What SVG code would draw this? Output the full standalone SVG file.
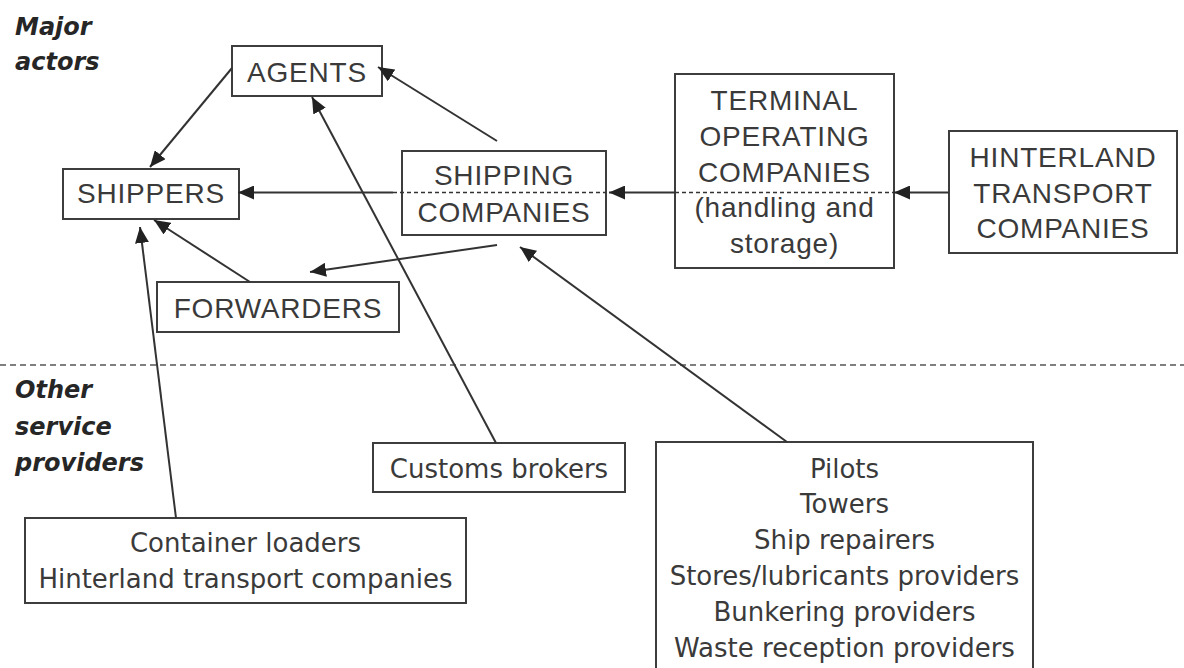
<svg xmlns="http://www.w3.org/2000/svg" width="1184" height="668" viewBox="0 0 1184 668">
  <style>
    .box { fill: #ffffff; stroke: #3d3d3d; stroke-width: 2; }
    .caps { font-family: "Liberation Sans", Arial, sans-serif; font-size: 28px; letter-spacing: 0.8px; fill: #3a3a3a; text-anchor: middle; }
    .plain { font-family: "DejaVu Sans", Verdana, sans-serif; font-size: 26px; fill: #3a3a3a; text-anchor: middle; }
    .zone { font-family: "DejaVu Sans", Verdana, sans-serif; font-size: 24px; font-weight: bold; font-style: italic; fill: #262626; }
    .link { fill: none; stroke: #333333; stroke-width: 2; marker-end: url(#arrow); }
    .inner { fill: none; stroke: #333333; stroke-width: 1.6; stroke-dasharray: 4 3; }
    .divider { fill: none; stroke: #555555; stroke-width: 1.6; stroke-dasharray: 6 4; }
  </style>
  <defs>
    <marker id="arrow" viewBox="0 0 16 14" refX="16" refY="7" markerWidth="16" markerHeight="14" markerUnits="userSpaceOnUse" orient="auto">
      <path d="M0,0 L16,7 L0,14 z" fill="#222222"/>
    </marker>
  </defs>

  <rect width="1184" height="668" fill="#ffffff"/>

  <!-- zone labels and separator -->
  <g id="zones">
    <text class="zone" x="15" y="35">Major</text>
    <text class="zone" x="15" y="70">actors</text>
    <line class="divider" x1="0" y1="365" x2="1184" y2="365"/>
    <text class="zone" x="15" y="398">Other</text>
    <text class="zone" x="15" y="435">service</text>
    <text class="zone" x="15" y="471">providers</text>
  </g>

  <!-- major actors -->
  <g id="agents">
    <rect class="box" x="232" y="46" width="150" height="50"/>
    <text class="caps" x="307" y="82">AGENTS</text>
  </g>
  <g id="shippers">
    <rect class="box" x="63" y="169" width="176" height="50"/>
    <text class="caps" x="151" y="203">SHIPPERS</text>
  </g>
  <g id="shipping-companies">
    <rect class="box" x="402" y="151" width="204" height="84"/>
    <text class="caps" x="504" y="185">SHIPPING</text>
    <text class="caps" x="504" y="222">COMPANIES</text>
  </g>
  <g id="terminal-operating-companies">
    <rect class="box" x="675" y="74" width="219" height="194"/>
    <text class="caps" x="784.5" y="110">TERMINAL</text>
    <text class="caps" x="784.5" y="146">OPERATING</text>
    <text class="caps" x="784.5" y="181.5">COMPANIES</text>
    <text class="caps" x="784.5" y="217">(handling and</text>
    <text class="caps" x="784.5" y="252.5">storage)</text>
  </g>
  <g id="hinterland-transport-companies">
    <rect class="box" x="949" y="131" width="228" height="122"/>
    <text class="caps" x="1063" y="166.5">HINTERLAND</text>
    <text class="caps" x="1063" y="202.5">TRANSPORT</text>
    <text class="caps" x="1063" y="238">COMPANIES</text>
  </g>
  <g id="forwarders">
    <rect class="box" x="157" y="282" width="242" height="50"/>
    <text class="caps" x="278" y="318">FORWARDERS</text>
  </g>

  <!-- other service providers -->
  <g id="customs-brokers">
    <rect class="box" x="373" y="443" width="252" height="49"/>
    <text class="plain" x="499" y="477.5">Customs brokers</text>
  </g>
  <g id="container-loaders">
    <rect class="box" x="25" y="518" width="441" height="85"/>
    <text class="plain" x="245.5" y="551.5">Container loaders</text>
    <text class="plain" x="245.5" y="588">Hinterland transport companies</text>
  </g>
  <g id="port-services">
    <path class="box" d="M656,670 L656,442 L1033,442 L1033,670"/>
    <text class="plain" x="844.5" y="477.5">Pilots</text>
    <text class="plain" x="844.5" y="513">Towers</text>
    <text class="plain" x="844.5" y="549">Ship repairers</text>
    <text class="plain" x="844.5" y="585">Stores/lubricants providers</text>
    <text class="plain" x="844.5" y="620.5">Bunkering providers</text>
    <text class="plain" x="844.5" y="656.5">Waste reception providers</text>
  </g>

  <!-- connectors -->
  <g id="connectors">
    <line class="inner" x1="393" y1="192.5" x2="606" y2="192.5"/>
    <line class="inner" x1="675" y1="192.5" x2="894" y2="192.5"/>
    <line class="link" x1="232" y1="68" x2="150" y2="167"/>
    <line class="link" x1="497" y1="141" x2="378" y2="67"/>
    <line class="link" x1="393" y1="192.5" x2="238" y2="192.5"/>
    <line class="link" x1="675" y1="192.5" x2="609" y2="192.5"/>
    <line class="link" x1="949" y1="192.5" x2="894" y2="192.5"/>
    <line class="link" x1="497" y1="245" x2="310" y2="272"/>
    <line class="link" x1="250" y1="282" x2="154" y2="220"/>
    <line class="link" x1="176" y1="518" x2="140" y2="227"/>
    <line class="link" x1="496" y1="443" x2="312" y2="97"/>
    <line class="link" x1="787" y1="442" x2="520" y2="247"/>
  </g>
</svg>
